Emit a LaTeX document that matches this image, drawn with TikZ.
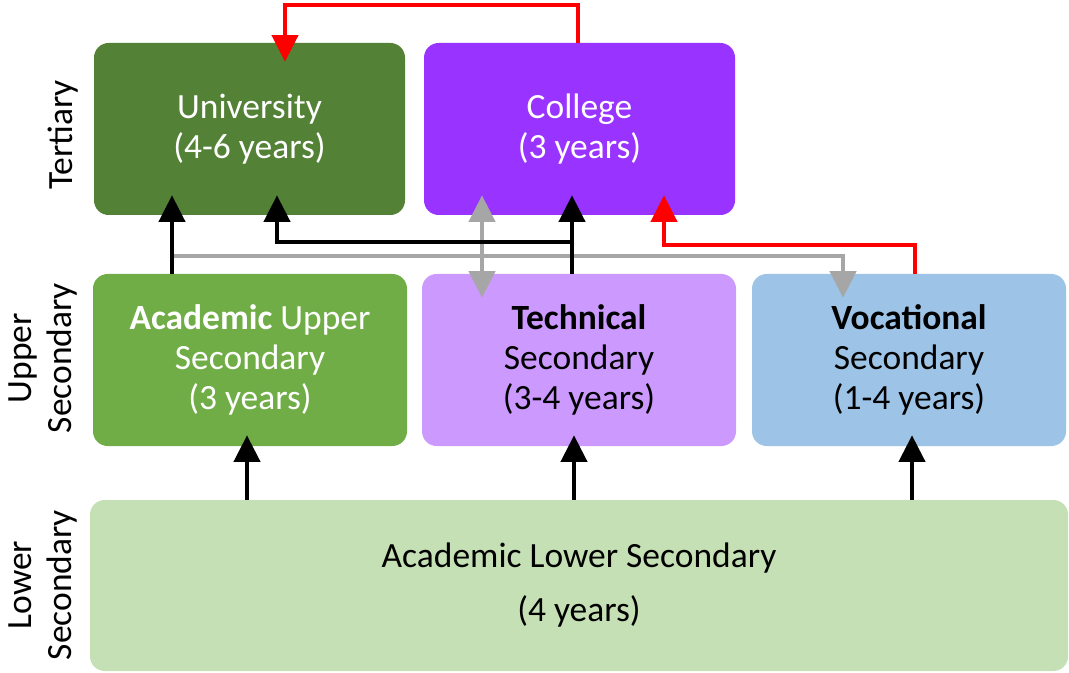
\documentclass[tikz,border=0pt]{standalone}
\usepackage{fontspec}
\setmainfont{Carlito}
\usetikzlibrary{arrows.meta,calc}
\definecolor{cUniv}{HTML}{538135}
\definecolor{cColl}{HTML}{9933FF}
\definecolor{cAcad}{HTML}{70AD47}
\definecolor{cTech}{HTML}{CC99FF}
\definecolor{cVoc}{HTML}{9DC3E6}
\definecolor{cLow}{HTML}{C5E0B4}
\definecolor{cGray}{HTML}{A6A6A6}
\definecolor{cRed}{HTML}{FF0000}
\begin{document}
\begin{tikzpicture}[x=0.75pt,y=-0.75pt,
  box/.style={rounded corners=11pt, inner sep=0pt, align=center,
    font=\fontsize{26.6}{30}\selectfont, minimum height=129pt},
  narrowbox/.style={box, minimum width=233.25pt},
  widebox/.style={box, minimum width=235.5pt},
  rowlabel/.style={rotate=90, align=center, font=\fontsize{26.6}{30}\selectfont},
  conn/.style={line width=3.3pt, -{Triangle[width=19.5pt,length=20pt]}},
  blk/.style={conn, black},
  gry/.style={conn, cGray},
  redc/.style={conn, cRed},
]
\useasboundingbox (0,0) rectangle (1069,673);

% boxes
\node[narrowbox, fill=cUniv, text=white] (univ) at (249.5,129) {University\\(4-6 years)};
\node[narrowbox, fill=cColl, text=white] (coll) at (579.5,129) {College\\(3 years)};
\node[widebox, fill=cAcad, text=white] (acad) at (250,360) {\textbf{Academic} Upper\\Secondary\\(3 years)};
\node[widebox, fill=cTech, text=black] (tech) at (579,360) {\textbf{Technical}\\Secondary\\(3-4 years)};
\node[widebox, fill=cVoc, text=black] (voc) at (909,360) {\textbf{Vocational}\\Secondary\\(1-4 years)};
\node[box, fill=cLow, text=black, minimum width=733.5pt, minimum height=128.25pt,
      font=\fontsize{26.6}{40.5}\selectfont] (low) at (579,585.5) {Academic Lower Secondary\\(4 years)};

% row labels
\node[rowlabel] (lt) at (63,135) {Tertiary};
\node[rowlabel] (lu) at (43,358) {Upper\\Secondary};
\node[rowlabel] (ll) at (43,585) {Lower\\Secondary};

% x positions
\coordinate (xA) at (172,0);
\coordinate (xB) at (277,0);
\coordinate (xC) at (482,0);
\coordinate (xD) at (572,0);
\coordinate (xE) at (664,0);
\coordinate (xF) at (843,0);
\coordinate (xG) at (915,0);
\coordinate (xH) at (285,0);
\coordinate (xI) at (578,0);
\coordinate (xL1) at (247,0);
\coordinate (xL2) at (574,0);
\coordinate (xL3) at (912,0);

% gray connectors
\coordinate (g1) at (172,256);
\draw[gry] (g1) -| ($(voc.north -| xF)+(0,24)$);
\draw[gry, {Triangle[width=19.5pt,length=20pt]}-{Triangle[width=19.5pt,length=20pt]}]
  ($(coll.south -| xC)+(0,-20)$) -- ($(tech.north -| xC)+(0,24)$);

% black connectors
\draw[blk] (acad.north -| xA) -- ($(univ.south -| xA)+(0,-20)$);
\draw[blk] (tech.north -| xD) -- ($(coll.south -| xD)+(0,-20)$);
\coordinate (j1) at (572,242);
\draw[blk] (j1) -| ($(univ.south -| xB)+(0,-20)$);
\draw[blk] (low.north -| xL1) -- ($(acad.south -| xL1)+(0,-11)$);
\draw[blk] (low.north -| xL2) -- ($(tech.south -| xL2)+(0,-11)$);
\draw[blk] (low.north -| xL3) -- ($(voc.south -| xL3)+(0,-11)$);

% red connectors
\coordinate (r1) at (664,245);
\draw[redc] (voc.north -| xG) |- (r1) -- ($(coll.south -| xE)+(0,-20)$);
\coordinate (r2) at (285,5);
\draw[redc] (coll.north -| xI) |- (r2) -- ($(univ.north -| xH)+(0,19)$);
\end{tikzpicture}
\end{document}
